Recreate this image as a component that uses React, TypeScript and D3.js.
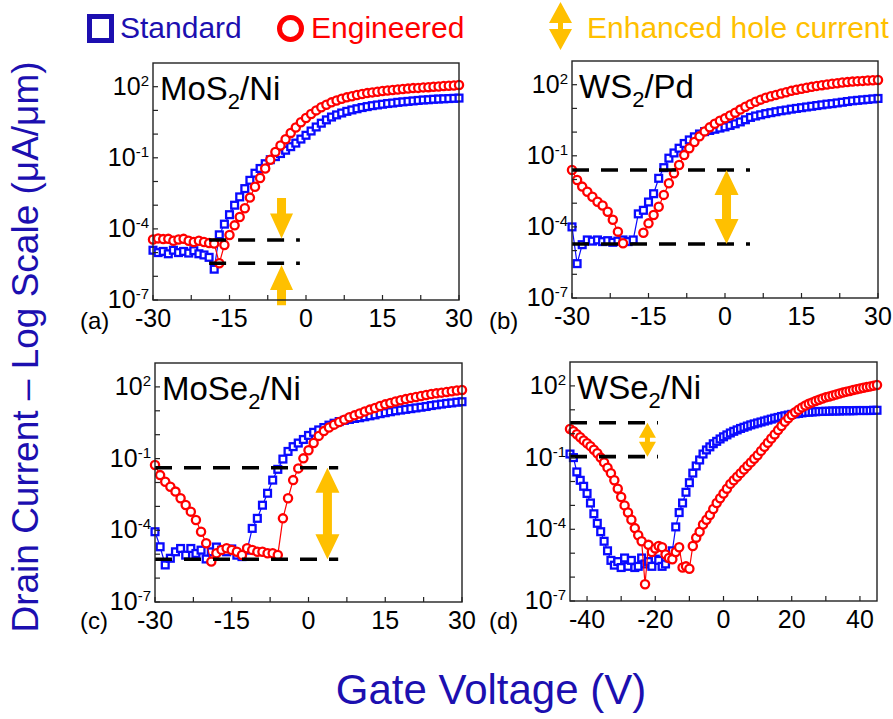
import React from "react";
import * as d3 from "d3";

// Gate-voltage sweeps (V)
const vgSweep30 = d3.range(-30, 31, 1);
const vgSweep45 = d3.range(-45, 46, 1);

// log10 of drain current (uA/um)
const mos2Standard = [
  -4.9, -5.0, -4.95, -5.05, -4.9, -5.0, -4.95, -5.02, -4.92, -5.05, -5.1, -5.2, -5.7, -4.25, -3.8, -3.4, -3.0, -2.65, -2.3, -1.95,
  -1.65, -1.45, -1.25, -1.08, -0.95, -0.82, -0.68, -0.53, -0.38, -0.21, -0.05, 0.13, 0.3, 0.46, 0.6, 0.72, 0.81, 0.89, 0.96, 1.02,
  1.07, 1.12, 1.16, 1.2, 1.23, 1.26, 1.29, 1.31, 1.34, 1.36, 1.38, 1.4, 1.42, 1.44, 1.45, 1.47, 1.48, 1.49, 1.5, 1.51, 1.52,
];
const mos2Engineered = [
  -4.45, -4.4, -4.43, -4.42, -4.5, -4.45, -4.42, -4.5, -4.55, -4.5, -4.55, -4.6, -4.62, -5.45, -4.68, -4.26, -3.85, -3.5, -3.13, -2.68,
  -2.22, -1.85, -1.45, -1.08, -0.75, -0.48, -0.22, 0.05, 0.28, 0.5, 0.68, 0.85, 1.0, 1.13, 1.24, 1.34, 1.42, 1.49, 1.55, 1.6,
  1.65, 1.69, 1.73, 1.76, 1.79, 1.82, 1.84, 1.86, 1.88, 1.9, 1.92, 1.94, 1.95, 1.97, 1.98, 2.0, 2.01, 2.03, 2.04, 2.05, 2.07,
];
const ws2Standard = [
  -4.0, -5.55, -4.75, -4.55, -4.6, -4.55, -4.62, -4.58, -4.65, -4.6, -4.55, -4.62, -4.55, -3.45, -3.3, -2.95, -2.6, -1.95, -1.5, -1.1,
  -0.88, -0.68, -0.48, -0.33, -0.2, -0.08, 0.02, 0.07, 0.12, 0.17, 0.22, 0.28, 0.35, 0.43, 0.52, 0.62, 0.68, 0.73, 0.78, 0.82,
  0.86, 0.9, 0.93, 0.97, 1.0, 1.03, 1.06, 1.09, 1.12, 1.15, 1.18, 1.2, 1.23, 1.26, 1.29, 1.32, 1.34, 1.36, 1.38, 1.4, 1.42,
];
const ws2Engineered = [
  -1.6, -2.02, -2.3, -2.52, -2.73, -2.94, -3.1, -3.36, -3.7, -4.2, -4.69, null, null, null, -4.25, -3.85, -3.5, -3.15, -2.65, -2.16,
  -1.74, -1.39, -0.97, -0.68, -0.42, -0.18, 0.03, 0.2, 0.35, 0.48, 0.58, 0.7, 0.82, 0.95, 1.07, 1.18, 1.28, 1.37, 1.45, 1.51,
  1.57, 1.63, 1.68, 1.74, 1.79, 1.83, 1.87, 1.91, 1.95, 1.98, 2.01, 2.04, 2.06, 2.09, 2.11, 2.13, 2.15, 2.16, 2.18, 2.19, 2.2,
];
const mose2Standard = [
  -4.06, -4.69, -5.45, -5.17, -4.9, -4.76, -5.04, -4.76, -4.97, -4.83, -5.2, -4.9, -4.7, -4.83, -4.9, -4.78, -5.04, -5.1, -4.83, -3.92,
  -3.5, -2.95, -2.45, -1.9, -1.45, -1.02, -0.7, -0.5, -0.35, -0.2, -0.03, 0.1, 0.2, 0.3, 0.4, 0.48, 0.55, 0.6, 0.64, 0.68,
  0.71, 0.75, 0.79, 0.83, 0.88, 0.92, 0.96, 1.0, 1.03, 1.06, 1.09, 1.12, 1.15, 1.18, 1.22, 1.25, 1.28, 1.31, 1.33, 1.36, 1.38,
];
const mose2Engineered = [
  -1.27, -1.69, -1.97, -2.18, -2.38, -2.66, -2.94, -3.22, -3.57, -4.06, -4.54, -5.31, -4.96, -4.82, -4.75, -4.82, -4.9, -5.03, -4.75, -4.82,
  -4.9, -4.9, -4.96, -4.96, -5.03, -3.5, -2.66, -1.9, -1.41, -0.99, -0.65, -0.35, -0.05, 0.15, 0.3, 0.42, 0.53, 0.63, 0.73, 0.81,
  0.89, 0.97, 1.05, 1.12, 1.2, 1.27, 1.33, 1.39, 1.44, 1.49, 1.54, 1.58, 1.62, 1.66, 1.7, 1.73, 1.76, 1.79, 1.82, 1.85, 1.87,
];
const wse2Standard = [
  -0.85, -1.0, -1.6, -1.95, -2.2, -2.5, -2.9, -3.35, -3.75, -4.1, -4.5, -4.9, -5.3, -5.5, -5.35, -5.6, -5.2, -5.55, -5.3, -5.6,
  -5.55, -5.2, -5.45, -5.35, -5.55, -5.25, -5.3, -5.55, -5.45, -5.2, -4.9, -3.9, -3.3, -2.9, -2.45, -2.05, -1.65, -1.35, -1.1, -0.85,
  -0.68, -0.55, -0.42, -0.32, -0.22, -0.13, -0.05, 0.03, 0.1, 0.16, 0.22, 0.27, 0.32, 0.37, 0.41, 0.45, 0.49, 0.53, 0.57, 0.61,
  0.65, 0.68, 0.72, 0.75, 0.78, 0.81, 0.83, 0.85, 0.87, 0.89, 0.9, 0.91, 0.92, 0.93, 0.93, 0.94, 0.94, 0.95, 0.95, 0.95,
  0.96, 0.96, 0.96, 0.96, 0.97, 0.97, 0.97, 0.97, 0.97, 0.98, 0.98,
];
const wse2Engineered = [
  0.2, 0.1, -0.02, -0.15, -0.28, -0.4, -0.52, -0.67, -0.82, -1.0, -1.2, -1.42, -1.65, -1.95, -2.3, -2.65, -3.0, -3.3, -3.6, -3.95,
  -4.25, -4.5, -6.3, -4.65, -4.95, -4.8, -4.7, -4.75, -5.05, -5.2, -5.25, -4.95, -4.75, -5.6, -5.55, -5.65, -4.7, -4.35, -4.1, -3.8,
  -3.6, -3.4, -3.15, -2.9, -2.7, -2.5, -2.3, -2.1, -1.95, -1.8, -1.65, -1.5, -1.35, -1.2, -1.05, -0.9, -0.72, -0.55, -0.38, -0.2,
  -0.03, 0.15, 0.32, 0.5, 0.65, 0.78, 0.9, 1.0, 1.1, 1.18, 1.25, 1.31, 1.37, 1.42, 1.47, 1.52, 1.56, 1.6, 1.64, 1.68,
  1.72, 1.76, 1.79, 1.83, 1.86, 1.89, 1.92, 1.95, 1.98, 2.01, 2.04,
];

// Axis ticks
const xTicks30 = [-30, -15, 0, 15, 30];
const xMinor30 = [-22.5, -7.5, 7.5, 22.5];
const xTicks45 = [-40, -20, 0, 20, 40];
const xMinor45 = [-30, -10, 10, 30];
const yLabelExps = [2, -1, -4, -7];
const yDecadeExps = [-7, -6, -5, -4, -3, -2, -1, 0, 1, 2];

// Text
const legendLabels = ["Standard", "Engineered", "Enhanced hole current"];
const panelTitles = [
  ["MoS", "2", "/Ni"],
  ["WS", "2", "/Pd"],
  ["MoSe", "2", "/Ni"],
  ["WSe", "2", "/Ni"],
];
const panelLetters = ["(a)", "(b)", "(c)", "(d)"];
const yTitle = "Drain Current \u2013 Log Scale (\u03bcA/\u03bcm)";
const xTitle = "Gate Voltage (V)";

// Annotations: dashed levels (log10 current), their voltage span, arrow voltage
const dashLevels = [[-4.47, -5.45], [-1.6, -4.72], [-1.38, -5.21], [0.46, -0.96]];
const dashSpans = [[-19, -1.2], [-30, 4.9], [-30, 5.8], [-45, -19.2]];
const arrowVoltages = [-4.8, 0.3, 3.7, -22.3];

const FONT = "'Liberation Sans', Arial, Helvetica, sans-serif";
const BLUE = "#0a0aff";
const RED = "#ff0000";
const GOLD = "#ffc000";
const NAVY = "#1c0fb0";

const boxes = [
  { l: 153, r: 459, t: 63, b: 300 },
  { l: 572, r: 878, t: 61, b: 298 },
  { l: 155, r: 462, t: 363, b: 602 },
  { l: 570, r: 877, t: 362, b: 601 },
];
const letterPos = [
  [80, 329],
  [489, 329],
  [80, 629],
  [489, 629],
];

const panels = [
  { vg: vgSweep30, std: mos2Standard, eng: mos2Engineered, xDomain: [-30, 30], xTicks: xTicks30, xMinor: xMinor30 },
  { vg: vgSweep30, std: ws2Standard, eng: ws2Engineered, xDomain: [-30, 30], xTicks: xTicks30, xMinor: xMinor30 },
  { vg: vgSweep30, std: mose2Standard, eng: mose2Engineered, xDomain: [-30, 30], xTicks: xTicks30, xMinor: xMinor30 },
  { vg: vgSweep45, std: wse2Standard, eng: wse2Engineered, xDomain: [-45, 45], xTicks: xTicks45, xMinor: xMinor45 },
];

function singleArrow(x: number, yTail: number, yTip: number, hw: number, hl: number, sw: number) {
  const d = yTip > yTail ? 1 : -1;
  const yb = yTip - d * hl;
  return `M${x - sw / 2},${yTail}L${x - sw / 2},${yb}L${x - hw / 2},${yb}L${x},${yTip}L${x + hw / 2},${yb}L${x + sw / 2},${yb}L${x + sw / 2},${yTail}Z`;
}
function doubleArrow(x: number, yTop: number, yBot: number, hw: number, hl: number, sw: number) {
  return `M${x},${yTop}L${x + hw / 2},${yTop + hl}L${x + sw / 2},${yTop + hl}L${x + sw / 2},${yBot - hl}L${x + hw / 2},${yBot - hl}L${x},${yBot}L${x - hw / 2},${yBot - hl}L${x - sw / 2},${yBot - hl}L${x - sw / 2},${yTop + hl}L${x - hw / 2},${yTop + hl}Z`;
}

function Panel({ idx }: { idx: number }) {
  const p = panels[idx];
  const box = boxes[idx];
  const x = d3.scaleLinear().domain(p.xDomain).range([box.l, box.r]);
  const y = d3.scaleLog().domain([1e-7, 1e3]).range([box.b, box.t]);
  const toPts = (arr: (number | null)[]) =>
    p.vg.map((v, i) => (arr[i] == null ? null : [x(v), y(Math.pow(10, arr[i] as number))]));
  const line = d3
    .line<any>()
    .defined((d) => d != null)
    .x((d) => d[0])
    .y((d) => d[1]);
  const stdPts = toPts(p.std);
  const engPts = toPts(p.eng);
  const Y = (e: number) => y(Math.pow(10, e));

  const lv = dashLevels[idx];
  const span = dashSpans[idx];
  const av = arrowVoltages[idx];
  const title = panelTitles[idx];

  let arrows: React.ReactNode;
  if (idx === 0) {
    arrows = (
      <g fill={GOLD}>
        <path d={singleArrow(x(av), Y(-2.7), Y(-4.4), 23, 25, 9)} />
        <path d={singleArrow(x(av), Y(-7.22), Y(-5.52), 23, 25, 9)} />
      </g>
    );
  } else if (idx === 3) {
    arrows = <path fill={GOLD} d={doubleArrow(x(av), Y(lv[0]), Y(lv[1]), 17, 15, 5)} />;
  } else {
    arrows = <path fill={GOLD} d={doubleArrow(x(av), Y(lv[0]), Y(lv[1]), 24, 25, 9)} />;
  }

  return (
    <g>
      {/* Standard */}
      <path d={line(stdPts as any) || ""} fill="none" stroke={BLUE} strokeWidth={1.2} />
      {stdPts.map((d, i) =>
        d ? (
          <rect key={"s" + i} x={d[0] - 3.4} y={d[1] - 3.4} width={6.8} height={6.8} fill="#fff" stroke={BLUE} strokeWidth={2.3} />
        ) : null
      )}
      {/* Engineered */}
      <path d={line(engPts as any) || ""} fill="none" stroke={RED} strokeWidth={1.2} />
      {engPts.map((d, i) =>
        d ? <circle key={"e" + i} cx={d[0]} cy={d[1]} r={4.1} fill="#fff" stroke={RED} strokeWidth={2.3} /> : null
      )}
      {/* dashed guide lines */}
      {lv.map((e, i) => (
        <line key={"dl" + i} x1={x(span[0])} x2={x(span[1])} y1={Y(e)} y2={Y(e)} stroke="#000" strokeWidth={3.6} strokeDasharray="17 12" />
      ))}
      {arrows}
      {/* frame */}
      <rect x={box.l} y={box.t} width={box.r - box.l} height={box.b - box.t} fill="none" stroke="#222" strokeWidth={1.4} />
      {/* y ticks */}
      {yDecadeExps.map((e) => (
        <line key={"yt" + e} x1={box.l} x2={box.l + 5} y1={Y(e)} y2={Y(e)} stroke="#222" strokeWidth={1.2} />
      ))}
      {yLabelExps.map((e) => (
        <text key={"yl" + e} x={box.l - 4} y={Y(e) + 8} textAnchor="end" fontSize={25} fill="#000">
          10
          <tspan dy={-9} fontSize={15}>
            {String(e)}
          </tspan>
        </text>
      ))}
      {/* x ticks */}
      {p.xTicks.concat(p.xMinor).map((v) => (
        <line key={"xt" + v} x1={x(v)} x2={x(v)} y1={box.b} y2={box.b - 5} stroke="#222" strokeWidth={1.2} />
      ))}
      {p.xTicks.map((v) => (
        <text key={"xl" + v} x={x(v)} y={box.b + 27} textAnchor="middle" fontSize={25} fill="#000">
          {String(v)}
        </text>
      ))}
      {/* title */}
      <text x={box.l + 7} y={box.t + 37} fontSize={33} fill="#000">
        {title[0]}
        <tspan dy={9} fontSize={22}>
          {title[1]}
        </tspan>
        <tspan dy={-9}>{title[2]}</tspan>
      </text>
      <text x={letterPos[idx][0]} y={letterPos[idx][1]} fontSize={24} fill="#000">
        {panelLetters[idx]}
      </text>
    </g>
  );
}

export default function App() {
  return (
    <svg
      width={893}
      height={719}
      viewBox="0 0 893 719"
      style={{ position: "absolute", left: 0, top: 0, background: "#fff" }}
      fontFamily={FONT}
    >
      <rect width={893} height={719} fill="#fff" />
      {panels.map((_, i) => (
        <Panel key={i} idx={i} />
      ))}
      {/* legend */}
      <rect x={89.5} y={16.5} width={22} height={24} fill="#fff" stroke={NAVY} strokeWidth={5} />
      <text x={120} y={38} fontSize={30} fill={NAVY}>
        {legendLabels[0]}
      </text>
      <circle cx={290.5} cy={28.5} r={11} fill="#fff" stroke={RED} strokeWidth={5} />
      <text x={311} y={38} fontSize={30} fill={RED}>
        {legendLabels[1]}
      </text>
      <path fill={GOLD} d={doubleArrow(560.5, 2, 50, 23, 21, 5)} />
      <text x={587} y={38} fontSize={30} fill={GOLD}>
        {legendLabels[2]}
      </text>
      {/* axis titles */}
      <text x={491} y={704} textAnchor="middle" fontSize={42} fill={NAVY}>
        {xTitle}
      </text>
      <text transform="translate(38,347) rotate(-90)" textAnchor="middle" fontSize={37} fill={NAVY}>
        {yTitle}
      </text>
    </svg>
  );
}
